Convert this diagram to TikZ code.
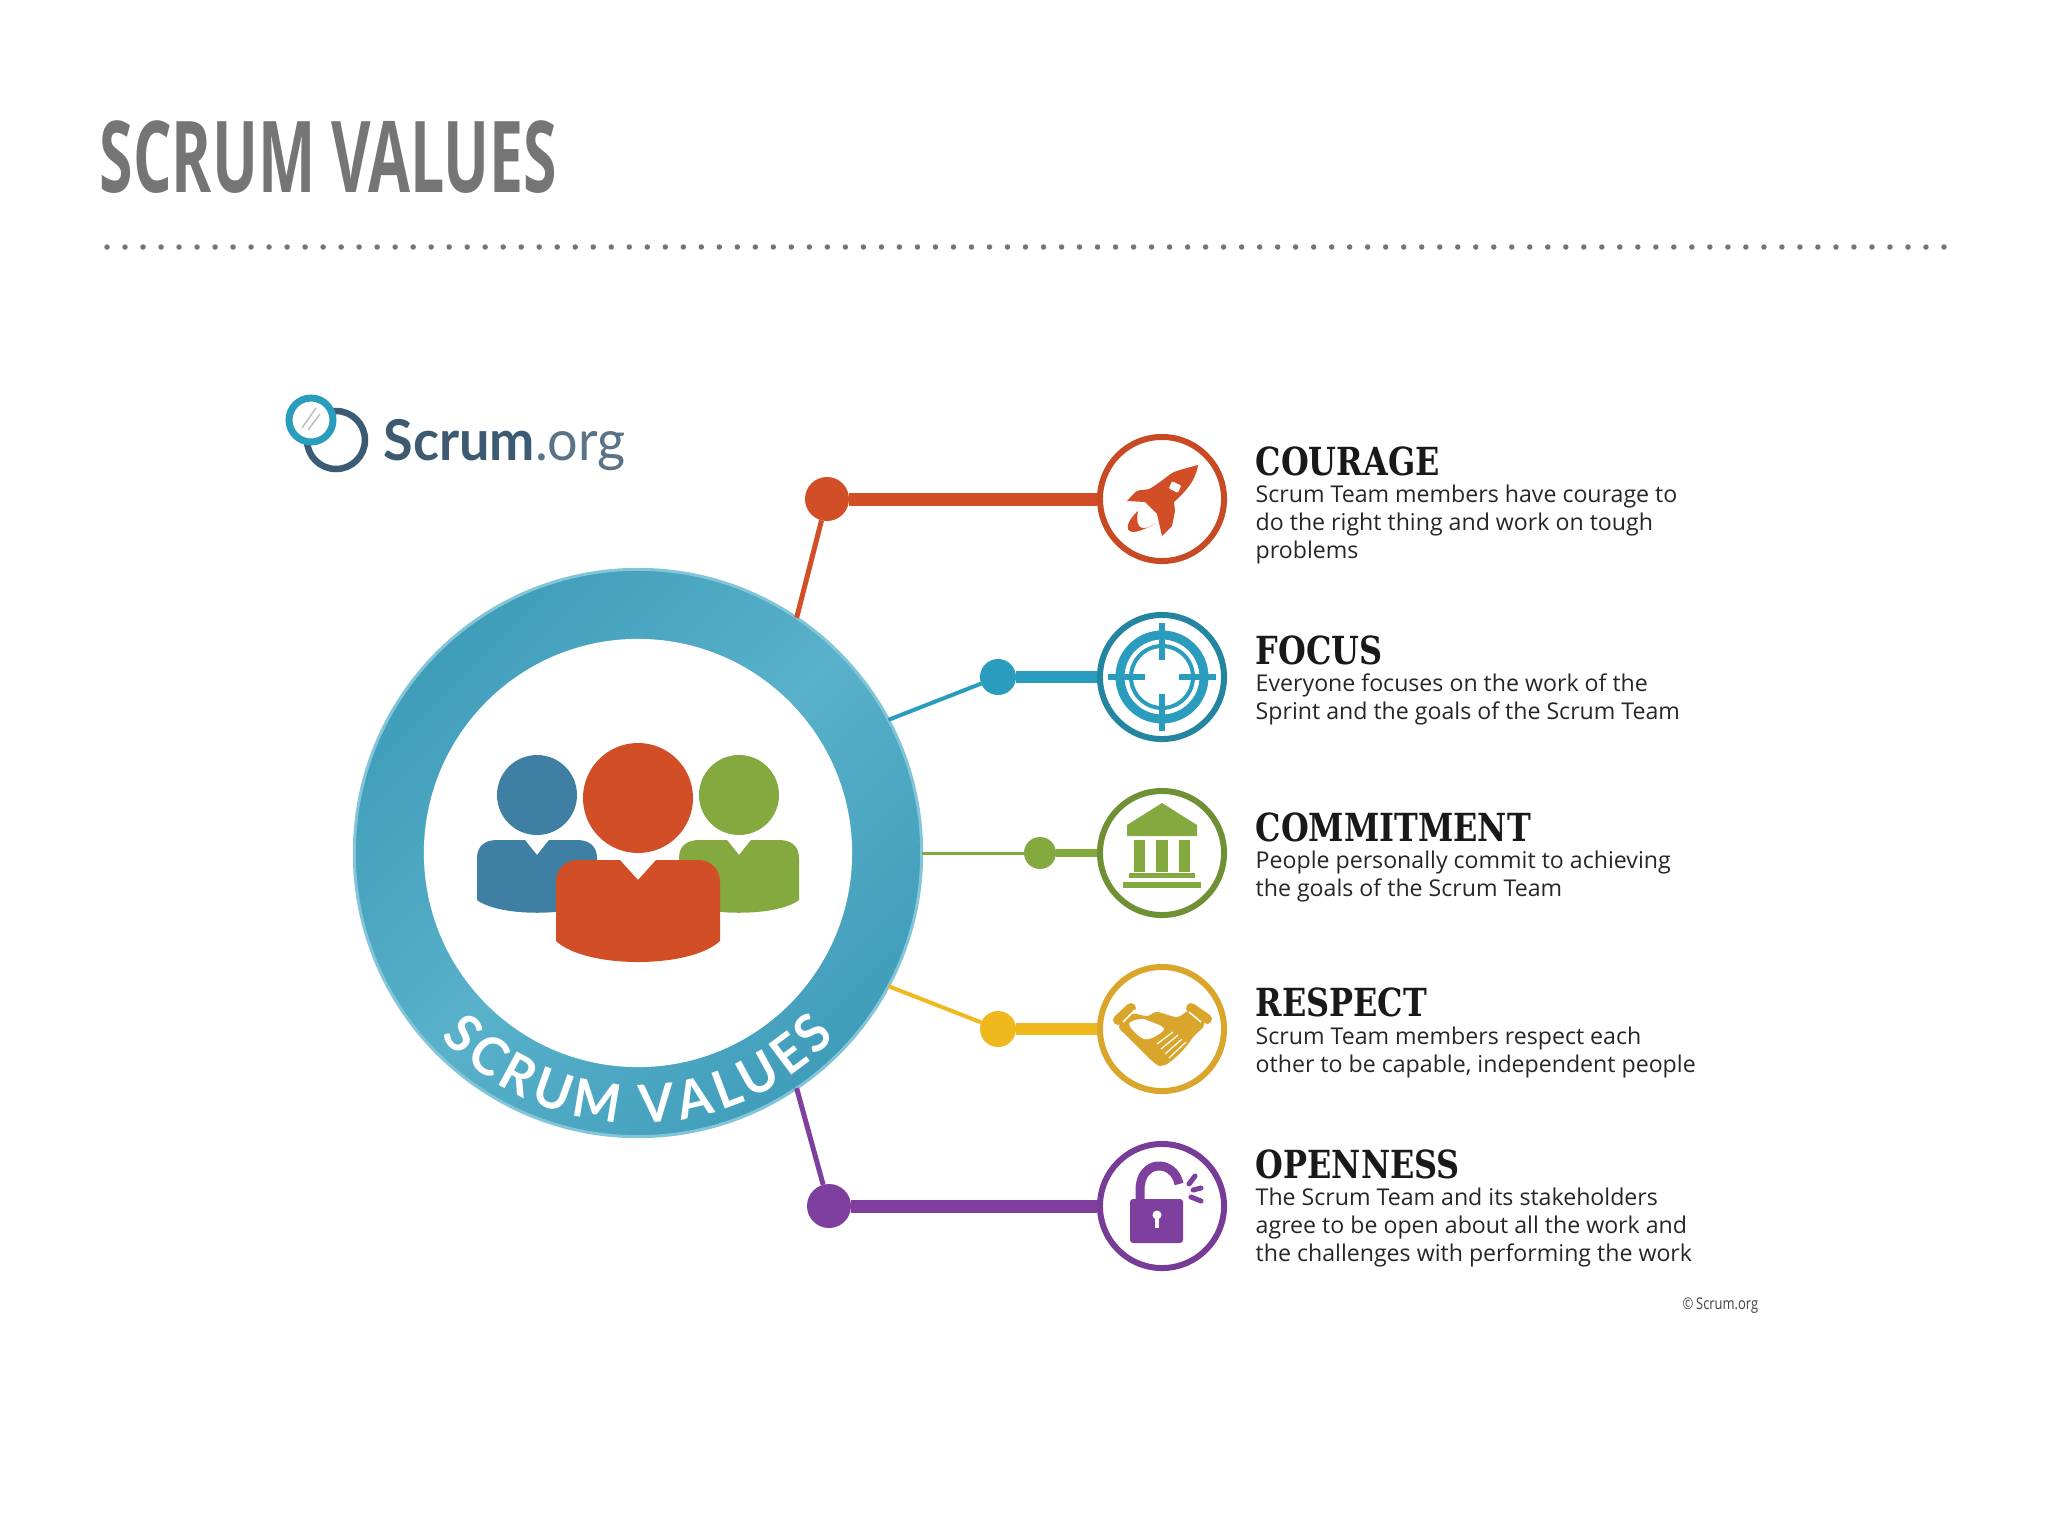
\documentclass[tikz,border=0pt]{standalone}
\usepackage{fontspec}
\usetikzlibrary{decorations.text}
\newfontfamily\titlefont[FakeStretch=0.613]{Open Sans}
\newfontfamily\headfont[FakeStretch=0.825]{DejaVu Serif}
\newfontfamily\bodyfont{Open Sans}
\newfontfamily\copyfont[FakeStretch=0.8]{Open Sans}
\newfontfamily\logofont[FakeStretch=0.96]{Lato}
\definecolor{titlegray}{HTML}{757575}
\definecolor{courage}{HTML}{D24E27}
\definecolor{focus}{HTML}{2A9CBD}
\definecolor{commit}{HTML}{84A93F}
\definecolor{respect}{HTML}{EFB91D}
\definecolor{respecticon}{HTML}{D9A52B}
\definecolor{openness}{HTML}{7E3F9E}
\definecolor{headblue}{HTML}{3F7FA3}
\definecolor{ringdark}{HTML}{409DBA}
\definecolor{ringlight}{HTML}{59B1CA}
\definecolor{logodark}{HTML}{3D5A73}
\definecolor{logolight}{HTML}{5B7386}
\tikzstyle{dot}=[circle, inner sep=0pt, outer sep=0pt]
\tikzstyle{icon}=[circle, inner sep=0pt, fill=white, line width=0.06cm, minimum size=1.24cm]
\tikzstyle{heading}=[anchor=base west, inner sep=0pt, font=\headfont\bfseries\fontsize{11}{11}\selectfont, text=black!90]
\tikzstyle{body}=[anchor=base west, inner sep=0pt, align=left, font=\bodyfont\fontsize{6.58}{7.83}\selectfont, text=black!85]
\begin{document}
\begin{tikzpicture}[x=0.01cm, y=-0.01cm]
	\useasboundingbox (0,0) rectangle (2048,1536);
	\begin{scope}
		\node (title) at (99, 192)[anchor=base west, inner sep=0pt, text=titlegray, font=\titlefont\bfseries\fontsize{28.2}{28.2}\selectfont] {SCRUM VALUES};
		\coordinate (ruleA) at (107, 247);
		\coordinate (ruleB) at (1950, 247);
		\node (logotext) at (383, 460)[anchor=base west, inner sep=0pt, font=\logofont\fontsize{16}{16}\selectfont] {\textcolor{logodark}{\bfseries Scrum}\textcolor{logolight}{.org}};
		\node (ring) at (638, 853)[circle, inner sep=0pt, outer sep=0pt, minimum size=5.67cm, draw=ringlight!75!white, line width=0.03cm, shading=axis, top color=ringdark, bottom color=ringdark, middle color=ringlight, shading angle=45] {};
		\node (hole) at (638, 853)[circle, inner sep=0pt, minimum size=4.28cm, fill=white] {};
		\node (dotC) at (827, 499)[dot, fill=courage, minimum size=0.44cm] {};
		\node (dotF) at (998, 677)[dot, fill=focus, minimum size=0.36cm] {};
		\node (dotM) at (1040, 853)[dot, fill=commit, minimum size=0.32cm] {};
		\node (dotR) at (998, 1029)[dot, fill=respect, minimum size=0.36cm] {};
		\node (dotO) at (829, 1206)[dot, fill=openness, minimum size=0.44cm] {};
		\node (iconC) at (1162, 499)[icon, draw=courage!95!black] {};
		\node (iconF) at (1162, 677)[icon, draw=focus!85!black] {};
		\node (iconM) at (1162, 853)[icon, draw=commit!85!black] {};
		\node (iconR) at (1162, 1029)[icon, draw=respecticon] {};
		\node (iconO) at (1162, 1206)[icon, draw=openness!95!black] {};
		\node (headC) at (1255, 475)[heading] {COURAGE};
		\node (textC) at (1255, 558)[body] {Scrum Team members have courage to\\do the right thing and work on tough\\problems};
		\node (headF) at (1255, 664)[heading] {FOCUS};
		\node (textF) at (1255, 719)[body] {Everyone focuses on the work of the\\Sprint and the goals of the Scrum Team};
		\node (headM) at (1255, 841)[heading] {COMMITMENT};
		\node (textM) at (1255, 896)[body] {People personally commit to achieving\\the goals of the Scrum Team};
		\node (headR) at (1255, 1016)[heading] {RESPECT};
		\node (textR) at (1255, 1072)[body] {Scrum Team members respect each\\other to be capable, independent people};
		\node (headO) at (1255, 1178)[heading] {OPENNESS};
		\node (textO) at (1255, 1261)[body] {The Scrum Team and its stakeholders\\agree to be open about all the work and\\the challenges with performing the work};
		\node (copy) at (1682, 1309)[anchor=base west, inner sep=0pt, text=black!75, font=\copyfont\fontsize{4.6}{4.6}\selectfont] {\textcopyright\,Scrum.org};
	\end{scope}
	\begin{scope}
		\path [draw=titlegray, line width=0.055cm, line cap=round, dash pattern=on 0pt off 0.18cm] (ruleA) -- (ruleB);
		\path [draw=courage, line width=0.05cm] (dotC) edge (ring.56);
		\path [draw=courage, line width=0.13cm] (dotC) edge (iconC);
		\path [draw=focus, line width=0.04cm] (dotF) edge (ring.28);
		\path [draw=focus, line width=0.12cm] (dotF) edge (iconF);
		\path [draw=commit, line width=0.03cm] (dotM) edge (ring.0);
		\path [draw=commit, line width=0.08cm] (dotM) edge (iconM);
		\path [draw=respect, line width=0.04cm] (dotR) edge (ring.-28);
		\path [draw=respect, line width=0.12cm] (dotR) edge (iconR);
		\path [draw=openness, line width=0.05cm] (dotO) edge (ring.-56);
		\path [draw=openness, line width=0.13cm] (dotO) edge (iconO);
	\end{scope}
	% logo
	\begin{scope}
		\draw [logodark, line width=0.065cm] (336, 440) circle [radius=29];
		\draw [focus, fill=white, line width=0.07cm] (311, 420) circle [radius=22];
		\draw [black!25, line width=0.015cm] (302, 428) -- (316, 408);
		\draw [black!25, line width=0.015cm] (308, 430) -- (320, 414);
	\end{scope}
	% people
	\begin{scope}
		\fill [headblue] (537, 795) circle [radius=40];
		\fill [headblue] (477, 900) -- (477, 858) .. controls (477, 846) and (485, 840) .. (497, 840) -- (525, 840) -- (537, 855) -- (549, 840) -- (577, 840) .. controls (589, 840) and (597, 846) .. (597, 858) -- (597, 900) .. controls (575, 917) and (499, 917) .. (477, 900) -- cycle;
		\fill [commit] (739, 795) circle [radius=40];
		\fill [commit] (679, 900) -- (679, 858) .. controls (679, 846) and (687, 840) .. (699, 840) -- (727, 840) -- (739, 855) -- (751, 840) -- (779, 840) .. controls (791, 840) and (799, 846) .. (799, 858) -- (799, 900) .. controls (777, 917) and (701, 917) .. (679, 900) -- cycle;
		\fill [courage] (638, 798) circle [radius=55];
		\fill [courage] (556, 941) -- (556, 882) .. controls (556, 868) and (566, 860) .. (578, 860) -- (620, 860) -- (638, 880) -- (656, 860) -- (698, 860) .. controls (710, 860) and (720, 868) .. (720, 882) -- (720, 941) .. controls (690, 969) and (586, 969) .. (556, 941) -- cycle;
		\path [decorate, decoration={text along path, text align=fit to path, text={|\logofont\bfseries\fontsize{15}{15}\selectfont\color{white}|SCRUM VALUES}}] (638, 853) ++(137:270) arc [start angle=137, end angle=43, radius=270];
	\end{scope}
	% rocket
	\begin{scope}[shift={(1162, 499)}]
		\fill [courage] plot [smooth, tension=0.4] coordinates {(36, -34) (12, -27) (-2, -17) (-13, -10) (-25, -8) (-35, 2)} -- (-17, 3) -- (-5, 15) -- (0, 37) -- (10, 27) -- (13, 12) -- (12, 3) .. controls (22, -6) and (34, -18) .. (36, -34) -- cycle;
		\fill [white, rounded corners=0.01cm, rotate around={-25:(13, -12)}] (8, -16) rectangle (18, -8);
		\fill [courage] (-24, 12) .. controls (-40, 26) and (-40, 44) .. (-6, 24) .. controls (-16, 31) and (-28, 34) .. (-24, 12) -- cycle;
	\end{scope}
	% target
	\begin{scope}[shift={(1162, 677)}]
		\draw [focus, line width=0.09cm] (0, 0) circle [radius=42];
		\draw [focus, line width=0.04cm] (0, 0) circle [radius=31];
		\draw [focus, line width=0.06cm] (0, -54) -- (0, -17) (0, 54) -- (0, 17) (-54, 0) -- (-17, 0) (54, 0) -- (17, 0);
	\end{scope}
	% temple
	\begin{scope}[shift={(1162, 853)}]
		\fill [commit] (0, -50) -- (35, -28) -- (35, -17) -- (-35, -17) -- (-35, -28) -- cycle;
		\fill [commit] (-28, -13) rectangle (-17, 19);
		\fill [commit] (-6, -13) rectangle (6, 19);
		\fill [commit] (17, -13) rectangle (28, 19);
		\fill [commit] (-33, 20) rectangle (33, 25);
		\fill [commit] (-39, 29) rectangle (39, 35);
	\end{scope}
	% handshake
	\begin{scope}[shift={(1162, 1029)}]
		\fill [respecticon] plot [smooth cycle, tension=0.6] coordinates {(-31, -15) (-15, -13) (-5, -17) (15, -12) (28, -18) (42, -5) (32, 7) (22, 20) (8, 33) (-2, 37) (-12, 30) (-25, 17) (-35, 7) (-43, -3)};
		\fill [white] plot [smooth cycle, tension=0.6] coordinates {(-33, -5) (-22, -10) (-13, -8) (2, 0) (-13, 10) (-23, 7)};
		\draw [white, line width=0.012cm] (-5, 15) -- (11, 3) (-1, 20) -- (16, 6) (3, 25) -- (20, 10) (7, 29) -- (24, 13);
		\draw [respecticon, line width=0.1cm, line cap=round] (-31, -21) -- (-44, -9) (29, -21) -- (45, -10);
		\draw [white, line width=0.015cm] (-27, -19) -- (-39, -7) (27, -17) -- (39, -7);
	\end{scope}
	% lock
	\begin{scope}[shift={(1162, 1206)}]
		\fill [openness, rounded corners=0.03cm] (-32, -7) rectangle (21, 37);
		\fill [white] (-5, 9) circle [radius=4.5];
		\fill [white] (-7, 9) rectangle (-3, 22);
		\draw [openness, line width=0.09cm] (-22, -7) -- (-22, -16) .. controls (-22, -47) and (12, -47) .. (17, -22);
		\draw [openness, line width=0.05cm, line cap=round] (27, -22) -- (33, -30) (31, -16) -- (39, -18) (29, -9) -- (39, -5);
	\end{scope}
\end{tikzpicture}
\end{document}
